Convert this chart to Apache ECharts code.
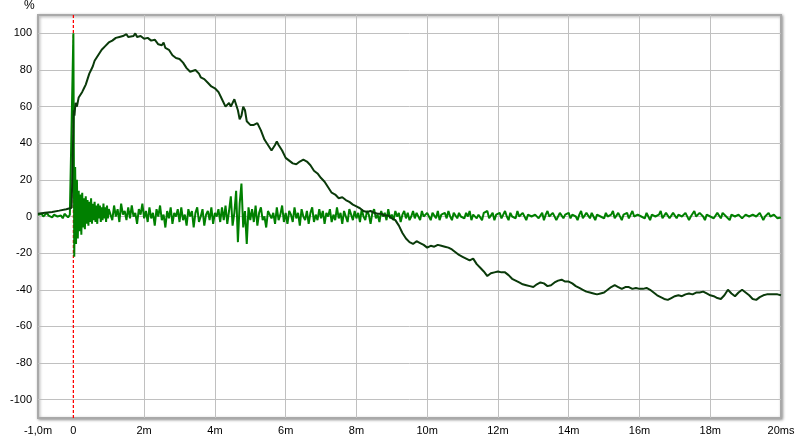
<!DOCTYPE html>
<html><head><meta charset="utf-8">
<script src="https://cdn.jsdelivr.net/npm/echarts@6/dist/echarts.min.js"></script>
<style>html,body{margin:0;padding:0;background:#fff}#c{width:800px;height:440px}</style>
</head><body><div id="c"></div>
<script>
// X tick labels (ms)
const xLabelValues = [-1, 0, 2, 4, 6, 8, 10, 12, 14, 16, 18, 20];
const xLabelTexts = ['-1,0m', '0', '2m', '4m', '6m', '8m', '10m', '12m', '14m', '16m', '18m', '20ms'];
const xGridValues = [2, 4, 6, 8, 10, 12, 14, 16, 18];
// Y tick labels (%)
const yLabelValues = [-100, -80, -60, -40, -20, 0, 20, 40, 60, 80, 100];

// Step response [time ms, %]
const stepPoints = [
 [-1.0,1.5],[-0.8,2],[-0.6,2.5],[-0.4,3.2],[-0.2,4],[-0.05,4.8],[0,5],[0.01,58],[0.03,55],[0.06,62],[0.1,60],
 [0.15,65],[0.2,66],[0.25,68],[0.3,70],[0.35,72],[0.4,75],[0.45,78],[0.5,80],[0.55,82],[0.6,85],[0.65,86],
 [0.7,88],[0.75,89.5],[0.8,91],[0.9,93],[1.0,95],[1.1,96],[1.2,97.5],[1.3,98],[1.4,98.5],[1.5,99.5],[1.55,98],
 [1.6,99],[1.7,98.5],[1.75,100],[1.8,98],[1.9,98.5],[2.0,97],[2.1,97.5],[2.2,96],[2.3,96.5],[2.4,94],[2.5,93.5],
 [2.55,95],[2.6,92],[2.7,91],[2.8,88],[2.85,89],[2.9,86.5],[3.0,86],[3.1,84],[3.2,81],[3.3,79],[3.35,78],
 [3.45,80],[3.55,78],[3.6,76],[3.7,75],[3.8,73],[3.9,71],[4.0,70],[4.1,68],[4.2,64],[4.3,60],[4.35,59],
 [4.4,62],[4.45,60],[4.5,61],[4.55,64],[4.6,63],[4.65,58],[4.7,53],[4.75,55],[4.8,60],[4.85,58],[4.9,52],
 [5.0,50],[5.1,50],[5.2,51],[5.3,47],[5.4,42],[5.5,39],[5.6,36],[5.7,39],[5.75,41],[5.8,39],[5.9,36],[6.0,32],
 [6.1,30.5],[6.2,29],[6.3,28.5],[6.4,30],[6.5,31],[6.6,30],[6.7,28],[6.8,25],[6.9,23.5],[7.0,21],[7.1,19],
 [7.2,16],[7.3,13],[7.4,12],[7.5,10],[7.6,10.5],[7.7,9],[7.8,8],[7.9,6.5],[8.0,5.5],[8.1,4.5],[8.2,3],[8.3,2.5],
 [8.4,3],[8.5,2],[8.6,1.5],[8.7,1.5],[8.8,0.5],[8.9,0.5],[9.0,-1],[9.1,-2],[9.2,-5],[9.3,-9],[9.4,-12],[9.5,-14],
 [9.6,-15],[9.7,-13.5],[9.8,-14.5],[9.9,-15.5],[10.0,-17],[10.1,-16],[10.2,-16.5],[10.3,-15.5],[10.4,-16],
 [10.5,-16.5],[10.6,-17],[10.7,-18],[10.8,-19.5],[10.9,-21],[11.0,-22],[11.1,-23],[11.2,-24],[11.3,-23],
 [11.4,-26],[11.5,-28],[11.6,-30],[11.7,-32.5],[11.8,-31],[11.9,-30.5],[12.0,-30],[12.1,-30.5],[12.2,-30.5],
 [12.3,-32],[12.4,-34],[12.5,-35],[12.6,-36],[12.7,-37],[12.8,-37.5],[12.9,-38],[13.0,-38.5],[13.1,-37],
 [13.2,-36],[13.3,-36.5],[13.4,-38],[13.5,-37.5],[13.6,-36],[13.7,-35],[13.8,-34.5],[13.9,-35.5],[14.0,-35.5],
 [14.1,-36.5],[14.2,-38],[14.3,-39],[14.4,-40],[14.5,-41],[14.6,-41.5],[14.7,-42],[14.8,-42.5],[14.9,-42],
 [15.0,-41.5],[15.1,-40],[15.2,-38.5],[15.3,-37.5],[15.4,-38.5],[15.5,-39.5],[15.6,-38.5],[15.7,-38.5],
 [15.8,-39.5],[15.9,-39],[16.0,-39.5],[16.1,-39.5],[16.2,-39],[16.3,-40],[16.4,-41.5],[16.5,-43],[16.6,-44],
 [16.7,-45],[16.8,-45.5],[16.9,-44.5],[17.0,-43.5],[17.1,-43],[17.2,-43.5],[17.3,-42.5],[17.4,-42],[17.5,-42.5],
 [17.6,-41.5],[17.7,-41.5],[17.8,-41],[17.9,-42],[18.0,-43],[18.1,-43.5],[18.2,-44.5],[18.3,-45],[18.4,-43],
 [18.5,-40],[18.6,-42],[18.7,-43.5],[18.8,-41.5],[18.9,-40],[19.0,-41.5],[19.1,-43],[19.2,-45],[19.3,-45.5],
 [19.4,-44],[19.5,-43],[19.6,-42.5],[19.7,-42.5],[19.8,-42.5],[19.9,-42.5],[20.0,-43]
];

// Impulse response, sampled: pre (-1.0 .. -0.05, step 0.05)
const impulsePreStart = -1.0, impulsePreStep = 0.05;
const impulsePre = [1,0.5,1.5,0,1,2,0.5,1.5,-0.5,1,2,0,1,0.5,-1,1.5,0.5,-0.5,1,0];
// early (0 .. 1.0, step 0.025)
const impulseEarlyStart = 0, impulseEarlyStep = 0.025;
const impulseEarly = [100,-22,27,-15,20,-12,14,-8,12,-10,13,-6,10,-7,11,-4,9,-5,8,-3,10,-4,7,-2,8,-3,6,-4,7,-1,6,-3,5,-2,7,-1,5,-3,6,-1,4];
// late (1.05 .. 20.0, step 0.05), one row per ms
const impulseLateStart = 1.05, impulseLateStep = 0.05;
const impulseLate = [
 3,-2,6,0,4,-3,7,1,3,-2,5,-1,6,0,2,-4,4,1,7,-1,
 3,-3,5,-1,2,-5,4,0,6,-2,1,-6,3,-1,5,-4,2,0,4,-3,
 5,-2,1,-5,4,0,3,-6,2,5,-3,0,4,-5,1,3,-2,5,-4,2,
 0,4,-3,5,-2,6,-4,3,11,-5,2,14,-14,7,18,-6,3,-15,5,-2,
 4,-3,6,-5,2,5,-2,0,-6,3,4,-1,2,-4,5,-2,1,6,-3,2,
 -4,3,1,-3,5,-1,2,-5,4,0,-2,3,-4,2,5,-3,1,-2,4,-1,
 3,-4,2,0,4,-3,1,-2,5,-1,2,-4,3,0,-3,4,1,-2,3,-1,
 2,-3,4,0,-2,3,1,-4,2,4,-1,1,-3,3,0,2,-2,4,-1,1,
 -2,3,0,2,-3,1,3,-1,2,-2,0,3,-1,2,1,-2,3,0,-1,2,
 0,-2,2,1,-1,3,-2,1,0,2,-1,3,0,-2,2,1,-1,2,0,1,
 -1,2,0,3,-2,1,2,-1,1,0,-2,2,1,3,-1,0,2,-2,1,0,
 2,-1,1,3,0,-2,2,0,1,-1,3,0,-1,2,1,-2,1,2,0,-1,
 1,2,-1,0,2,-2,1,3,0,-1,2,1,-2,0,2,3,-1,1,0,2,
 -1,1,2,0,-2,1,3,-1,0,2,1,-1,2,0,-2,1,2,0,1,-1,
 2,0,-1,1,3,-1,0,2,1,-2,1,0,2,-1,1,3,0,-1,1,2,
 0,1,-1,2,0,-2,1,2,0,-1,1,3,-1,0,2,1,-1,0,2,1,
 -1,1,2,0,-1,2,1,-2,0,1,3,0,-1,2,1,0,-2,1,2,0,
 1,-1,0,2,1,-1,2,3,0,1,-2,1,2,0,-1,1,2,-1,0,1,
 2,0,-1,1,2,0,-1,2,1,-2,0,1,2,0,-1,1,0,-1,0,-0.5
];

// Time-zero marker (ms)
const zeroTime = 0;

function sampled(start, step, vals) {
  return vals.map((v, i) => [Math.round((start + i * step) * 10000) / 10000, v]);
}
const impulsePoints = [].concat(
  sampled(impulsePreStart, impulsePreStep, impulsePre),
  sampled(impulseEarlyStart, impulseEarlyStep, impulseEarly),
  sampled(impulseLateStart, impulseLateStep, impulseLate)
);

const X_MIN = -1, X_MAX = 20, Y_MIN = -110, Y_MAX = 110;
const GRID = '#c0c0c0';
const xTicks = []; for (let v = X_MIN; v <= X_MAX; v++) xTicks.push(v);
const xLineColors = xTicks.map(v => xGridValues.indexOf(v) >= 0 ? GRID : 'rgba(255,255,255,0)');
const yTicks = []; for (let v = Y_MIN; v <= Y_MAX; v += 10) yTicks.push(v);
const yLineColors = yTicks.map(v => (yLabelValues.indexOf(v) >= 0) ? GRID : 'rgba(255,255,255,0)');

const font = 'Liberation Sans';
const RED = '#ff0000';
const chart = echarts.init(document.getElementById('c'), null, {renderer: 'canvas'});
chart.setOption({
  animation: false,
  backgroundColor: '#fff',
  grid: {left: 38, right: 19, top: 15, bottom: 22, show: true, backgroundColor: '#fff',
         borderColor: '#a9a9a9', borderWidth: 2,
         shadowColor: 'rgba(0,0,0,0.35)', shadowBlur: 3, shadowOffsetX: 1, shadowOffsetY: 1},
  graphic: [{type: 'text', left: 24, top: 0, style: {text: '%', font: '12px ' + font, fill: '#000'}}],
  xAxis: {
    type: 'value', min: X_MIN, max: X_MAX, interval: 1,
    axisLine: {show: false}, axisTick: {show: false},
    axisLabel: {color: '#000', fontFamily: font, fontSize: 11, margin: 7,
      formatter: v => { const i = xLabelValues.indexOf(Math.round(v)); return i >= 0 ? xLabelTexts[i] : ''; }},
    splitLine: {show: true, lineStyle: {color: xLineColors, width: 1}}
  },
  yAxis: {
    type: 'value', min: Y_MIN, max: Y_MAX, interval: 10,
    axisLine: {show: false, onZero: false}, axisTick: {show: false},
    axisLabel: {color: '#000', fontFamily: font, fontSize: 11, margin: 6,
      formatter: v => yLabelValues.indexOf(Math.round(v)) >= 0 ? String(Math.round(v)) : ''},
    splitLine: {show: true, lineStyle: {color: yLineColors, width: 1}}
  },
  series: [
    {type: 'line', name: 'Zero', data: [[zeroTime, Y_MIN], [zeroTime, Y_MAX]], showSymbol: false, symbol: 'none',
     silent: true, lineStyle: {color: RED, type: [3, 2], width: 1.3}, itemStyle: {color: RED}, z: 1},
    {type: 'line', name: 'Impulse', data: impulsePoints, showSymbol: false, symbol: 'none',
     lineStyle: {color: '#008000', width: 2}, itemStyle: {color: '#008000'}, z: 2},
    {type: 'line', name: 'Step', data: stepPoints, showSymbol: false, symbol: 'none',
     lineStyle: {color: '#0a3a0a', width: 2}, itemStyle: {color: '#0a3a0a'}, z: 3}
  ]
});
</script></body></html>
